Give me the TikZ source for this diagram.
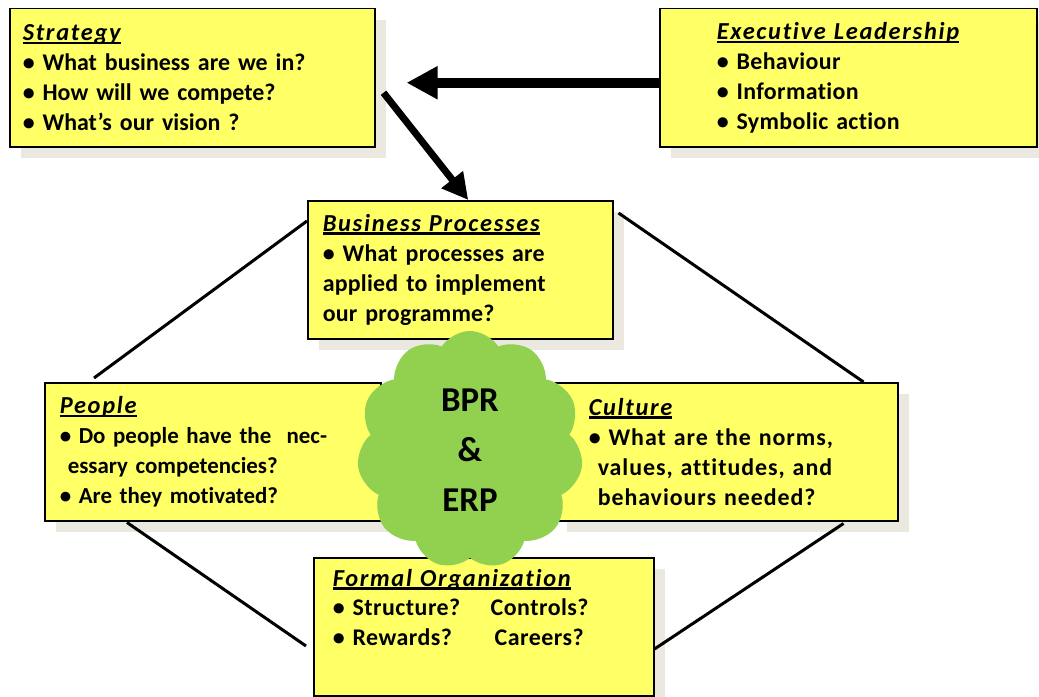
\documentclass[tikz,border=0pt]{standalone}
\usepackage{fontspec}
\setmainfont{Carlito}[Ligatures=NoCommon]
\usetikzlibrary{arrows.meta,shadows,shapes.symbols}

\definecolor{boxyellow}{HTML}{FFFF66}
\definecolor{shadowgray}{HTML}{EBE8DF}
\definecolor{cloudgreen}{HTML}{92D050}

\newcommand{\boxhead}[1]{\setbox0=\hbox{\fontsize{24.5}{30}\selectfont\itshape\addfontfeature{LetterSpace=7}#1}\rlap{\rule[-3.5bp]{\wd0}{2.5bp}}\box0}
\newcommand{\spaced}[1]{\bfseries\fontsize{24}{30}\selectfont\addfontfeature{LetterSpace=#1}}

\begin{document}
\begin{tikzpicture}[x=1bp,y=-1bp]
\tikzset{bloc/.style={draw, line width=1.5bp, fill=boxyellow,
    drop shadow={shadow xshift=11bp, shadow yshift=-11bp, fill=shadowgray, opacity=1},
    anchor=north west, align=left, minimum height=138bp,
    font=\bfseries\fontsize{24}{30}\selectfont}}
\tikzset{link/.style={line width=3bp}}
\tikzset{fat/.style={line width=10bp, -{Triangle[length=31bp,width=31bp]}}}
\useasboundingbox (0,0) rectangle (1039,697);
\node[bloc, inner xsep=13bp, text width=339bp] (strat) at (9,8)
  {\boxhead{Strategy}\\ • What business are we in?\\ • How will we compete?\\ • What’s our vision ?};
\node[bloc, inner xsep=57bp, text width=263bp, font=\spaced{1.5}] (exec) at (659,8)
  {\boxhead{Executive Leadership}\\ • Behaviour\\ • Information\\ • Symbolic action};
\node[bloc, inner xsep=15bp, text width=275bp, font=\spaced{1}] (bp) at (307,200)
  {\boxhead{Business Processes}\\ • What processes are\\ applied to implement\\ our programme?};
\node[bloc, inner xsep=15bp, text width=306bp, font=\bfseries\fontsize{23}{30}\selectfont] (people) at (44,382)
  {\boxhead{People}\\ • Do people have the\ \ nec-\\ \hspace*{8bp}essary competencies?\\ • Are they motivated?};
\node[bloc, inner xsep=33bp, text width=276bp, font=\spaced{4}] (culture) at (555,382)
  {\boxhead{Culture}\\ • What are the norms,\\ \hspace*{9bp}values, attitudes, and\\ \hspace*{9bp}behaviours needed?};
\node[bloc, inner xsep=19bp, text width=302bp, font=\spaced{2}] (formal) at (313,557)
  {\boxhead{Formal Organization}\\ \makebox[158bp][l]{• Structure?}Controls?\\ \makebox[162bp][l]{• Rewards?}Careers?\\ \strut};
% arrows
\draw[fat] ([yshift=-5bp]exec.west) -- ([xshift=31bp,yshift=-5bp]strat.east);
\draw[line width=7bp, -{Triangle[length=26bp,width=26bp]}] ([xshift=8bp,yshift=-15bp]strat.east) -- ([xshift=8bp]bp.north);
% links
\draw[link] ([yshift=-21bp]bp.north west) -- ([xshift=50bp,yshift=4bp]people.north west);
\draw[link] ([xshift=5bp,yshift=-13bp]bp.north east) -- ([xshift=-35bp]culture.north east);
\draw[link] ([xshift=83bp,yshift=-1bp]people.south west) -- ([xshift=-7bp,yshift=-89bp]formal.north west);
\draw[link] ([xshift=-55bp,yshift=-2bp]culture.south east) -- ([yshift=-92bp]formal.north east);
\draw[line width=2bp] ([xshift=8.5bp]bp.south) -- ([xshift=-15bp]formal.north);
% cloud
\node[cloud, cloud puffs=11, cloud puff arc=115, fill=cloudgreen, minimum width=226bp, minimum height=238bp,
  inner sep=0, align=center, font=\bfseries\fontsize{35}{50}\selectfont] (bpr) at (470,450) {BPR\\\&\\ERP};
\end{tikzpicture}
\end{document}
